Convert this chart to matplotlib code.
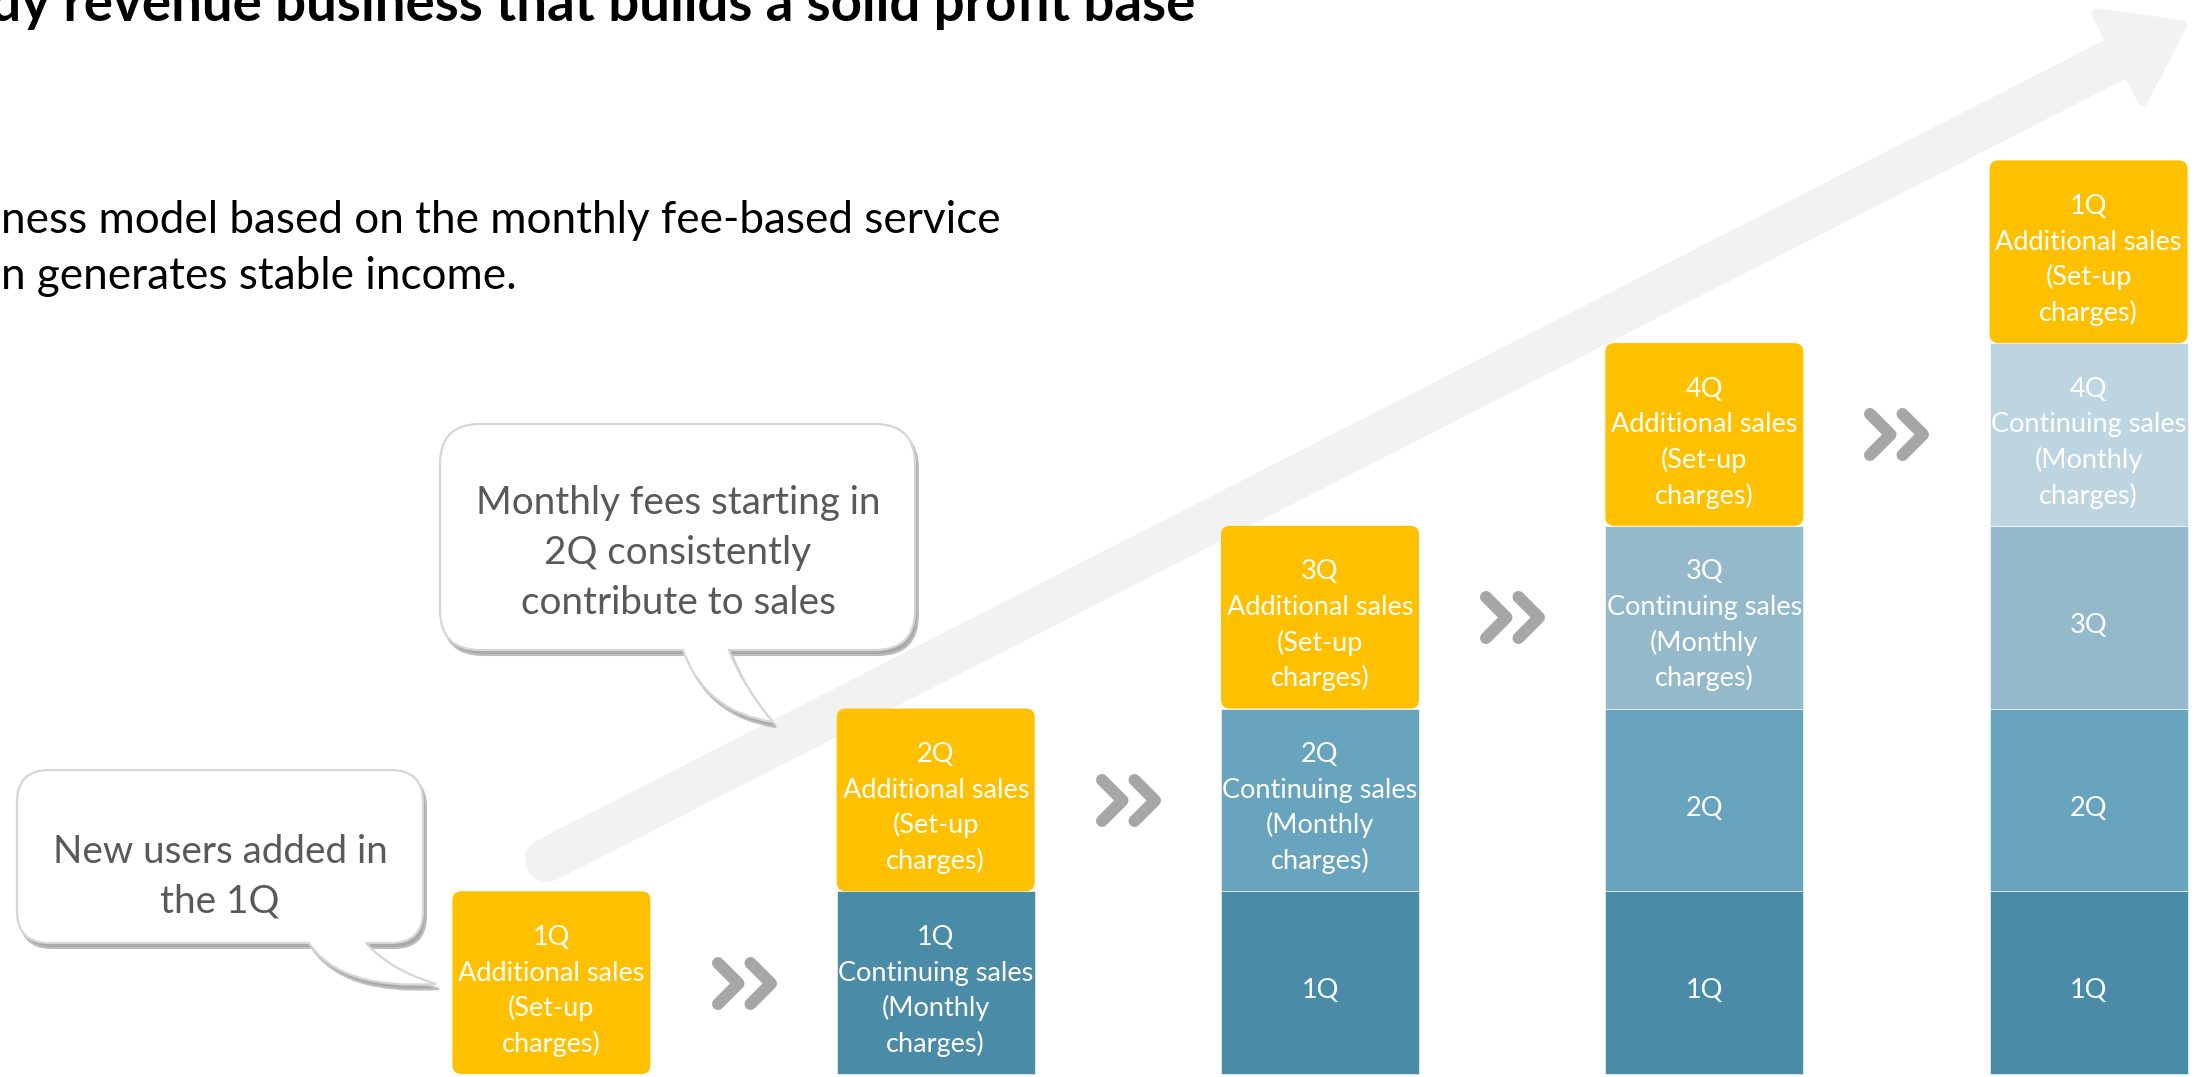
import numpy as np
import matplotlib
matplotlib.use("Agg")
import matplotlib.pyplot as plt
from matplotlib.path import Path
from matplotlib.patches import PathPatch, FancyBboxPatch, Polygon
from matplotlib.transforms import Affine2D, offset_copy
from matplotlib.markers import MarkerStyle
from matplotlib.lines import Line2D

# ------------------------------------------------------------------ data
stage_new_quarter = ['1Q', '2Q', '3Q', '4Q', '1Q']          # quarter of the set-up sales on top of each column
additional_sales = [1.0, 1.0, 1.0, 1.0, 1.0]                # set-up charges (one unit per quarter)
cohort_quarters = ['1Q', '2Q', '3Q', '4Q']                  # cohorts paying monthly charges
cohort_monthly_sales = [1.0, 1.0, 1.0, 1.0]                 # continuing sales per cohort
continuing_cohorts = [0, 1, 2, 3, 4]                        # number of paying cohorts in each column

title_text = "Steady revenue business that builds a solid profit base"
body_lines = ["ness model based on the monthly fee-based service",
              "n generates stable income."]
bubble1_lines = ["New users added in", "the 1Q"]
bubble2_lines = ["Monthly fees starting in", "2Q consistently", "contribute to sales"]

# ------------------------------------------------------------------ style
W, H, DPI = 2210, 1077, 100
FONT = "Lato"
YELLOW = "#FFC000"
COHORT_COLORS = ["#4A8BA7", "#68A4BD", "#94B9CB", "#BDD5E0"]
ARROW_C = "#F2F2F2"
CHEV_C = "#A6A6A6"
BUBBLE_TXT = "#595959"

X0, DX = 551.4, 384.3      # pixel of column 0 centre, pixels per column
Y0, DY = 1080.0, 183.75    # pixel (from top) of zero line, pixels per unit
BAR_W = 198 / DX

fig = plt.figure(figsize=(W / DPI, H / DPI), dpi=DPI)
fig.patch.set_facecolor("white")
ax = fig.add_axes([0, 0, 1, 1])
ax.set_xlim(-X0 / DX, (W - X0) / DX)
ax.set_ylim(-(Y0 - H) / DY, Y0 / DY)
ax.axis("off")

PX = Affine2D().scale(1 / W, -1 / H).translate(0, 1) + fig.transFigure
renderer = fig.canvas.get_renderer()


def fit_size(text, target_px, **kw):
    t = fig.text(0, 0, text, fontsize=20, **kw)
    w = t.get_window_extent(renderer).width
    t.remove()
    return 20 * target_px / w


def put_lines(lines, x, y, spacing_px, size, color, transform_fn, shift=0.0, **kw):
    n = len(lines)
    capmid = 0.358 * size * DPI / 72
    for i, s in enumerate(lines):
        dy = (i - (n - 1) / 2) * spacing_px + capmid + shift
        tr = transform_fn(dy)
        ax.text(x, y, s, fontsize=size, color=color, ha="center", va="baseline",
                family=FONT, transform=tr, zorder=6, **kw)


# ------------------------------------------------------------------ arrow (background)
ax.add_line(Line2D([547, 2118], [860, 58], lw=44 * 72 / DPI, color=ARROW_C,
                   solid_capstyle="round", transform=PX, zorder=1))
ax.add_patch(Polygon([(2096, 13), (2182, 25), (2143, 101)], closed=True, fc=ARROW_C,
                     ec=ARROW_C, lw=7, joinstyle="round", transform=PX, zorder=1))

# ------------------------------------------------------------------ stacked columns
bar_size = fit_size("Continuing sales", 196, family=FONT)
line_sp = 35.7
xs = np.arange(len(stage_new_quarter))
data_off = lambda d: offset_copy(ax.transData, fig=fig, x=0, y=-d, units="dots")

for i, x in enumerate(xs):
    bottom = 0.0
    k = continuing_cohorts[i]
    for j in range(k):
        h = cohort_monthly_sales[j]
        ax.bar(x, h, bottom=bottom, width=BAR_W, color=COHORT_COLORS[j],
               edgecolor="white", linewidth=0.4, zorder=2)
        if j == k - 1:
            lines = [cohort_quarters[j], "Continuing sales", "(Monthly", "charges)"]
        else:
            lines = [cohort_quarters[j]]
        put_lines(lines, x, bottom + h / 2, line_sp, bar_size, "white", data_off, shift=6)
        bottom += h
    h = additional_sales[i]
    bars = ax.bar(x, h, bottom=bottom, width=BAR_W, color=YELLOW, zorder=2)
    r = bars[0]
    r.set_visible(False)
    ax.add_patch(FancyBboxPatch((r.get_x(), r.get_y()), r.get_width(), r.get_height(),
                                boxstyle="round,pad=0,rounding_size=%f" % (9 / DX),
                                mutation_aspect=DX / DY, fc=YELLOW, ec="none", zorder=2))
    put_lines([stage_new_quarter[i], "Additional sales", "(Set-up", "charges)"],
              x, bottom + h / 2, line_sp, bar_size, "white", data_off, shift=6)

# ------------------------------------------------------------------ chevrons
chev = Path([(-26.5, 20.5), (-6, 0), (-26.5, -20.5), (6, 20.5), (26.5, 0), (6, -20.5)],
            [Path.MOVETO, Path.LINETO, Path.LINETO, Path.MOVETO, Path.LINETO, Path.LINETO])
chev_marker = MarkerStyle(chev, fillstyle="none", capstyle="round", joinstyle="round")
for i in range(len(xs) - 1):
    yc = continuing_cohorts[i] * 1.0 + additional_sales[i] / 2
    ax.plot([xs[i] + 0.5], [yc], linestyle="none", marker=chev_marker,
            markersize=53 * 72 / DPI, markeredgewidth=12 * 72 / DPI,
            markeredgecolor=CHEV_C, zorder=4)


# ------------------------------------------------------------------ speech bubbles
def bubble_path(x0, y0, x1, y1, r, tl, tr, tip, cl, cr, off=(0, 0)):
    ox, oy = off
    v = [(x0 + r, y0), (x1 - r, y0), (x1, y0), (x1, y0 + r), (x1, y1 - r), (x1, y1), (x1 - r, y1),
         (tr, y1), cr, tip, cl, (tl, y1), (x0 + r, y1), (x0, y1), (x0, y1 - r), (x0, y0 + r),
         (x0, y0), (x0 + r, y0), (x0 + r, y0)]
    c = [Path.MOVETO, Path.LINETO, Path.CURVE3, Path.CURVE3, Path.LINETO, Path.CURVE3, Path.CURVE3,
         Path.LINETO, Path.CURVE3, Path.CURVE3, Path.CURVE3, Path.CURVE3, Path.LINETO, Path.CURVE3,
         Path.CURVE3, Path.LINETO, Path.CURVE3, Path.CURVE3, Path.CLOSEPOLY]
    v = [(a + ox, b + oy) for a, b in v]
    return Path(v, c)


def draw_bubble(**geo):
    ax.add_patch(PathPatch(bubble_path(off=(3, 5), **geo), fc="#A9A9A9", ec="#BDBDBD",
                           lw=1.5, transform=PX, zorder=3))
    ax.add_patch(PathPatch(bubble_path(**geo), fc="white", ec="#D6D6D6", lw=1.6,
                           transform=PX, zorder=3))


draw_bubble(x0=17, y0=770, x1=423, y1=943, r=32, tl=309, tr=366, tip=(436, 984),
            cl=(340, 990), cr=(390, 970))
draw_bubble(x0=440, y0=424, x1=915, y1=650, r=40, tl=683, tr=729, tip=(773, 722),
            cl=(705, 712), cr=(742, 685))

b_size = fit_size(bubble2_lines[0], 405, family=FONT)
px_off = lambda d: PX + Affine2D().translate(0, -d)
put_lines(bubble1_lines, 220, 874, 49, b_size, BUBBLE_TXT, px_off)
put_lines(bubble2_lines, 678, 550, 50, b_size, BUBBLE_TXT, px_off)

# ------------------------------------------------------------------ title & body text
t_size = fit_size("y revenue business that builds a solid profit base", 1177,
                  family=FONT, fontweight="bold")
ax.text(1195, 21, title_text, fontsize=t_size, fontweight="bold", color="black",
        family=FONT, ha="right", va="baseline", transform=PX, zorder=6)

body_size = fit_size(body_lines[0], 1000, family=FONT)
ax.text(1, 233, body_lines[0], fontsize=body_size, color="black", family=FONT,
        ha="left", va="baseline", transform=PX, zorder=6)
ax.text(1, 289, body_lines[1], fontsize=body_size, color="black", family=FONT,
        ha="left", va="baseline", transform=PX, zorder=6)

fig.savefig("out.png", dpi=DPI, facecolor="white")
